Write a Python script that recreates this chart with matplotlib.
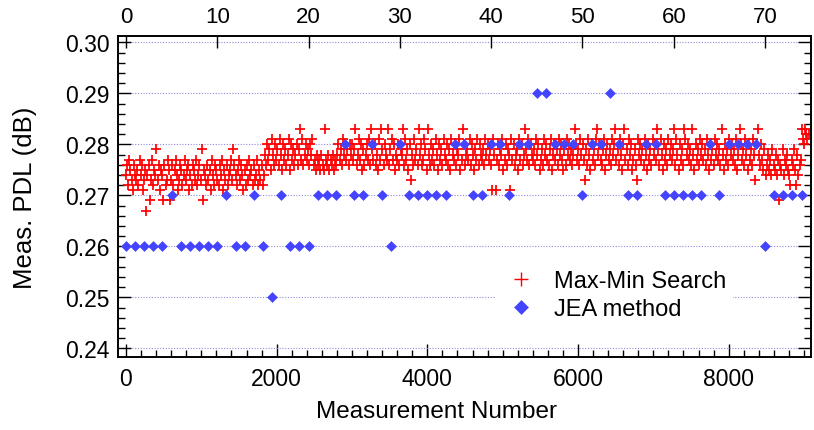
import numpy as np
import matplotlib
matplotlib.use("Agg")
import matplotlib.pyplot as plt
from matplotlib.ticker import MultipleLocator, FormatStrFormatter
from matplotlib.lines import Line2D

plt.rcParams['font.family'] = ['Liberation Sans', 'DejaVu Sans']

# Max-Min Search: measured PDL in units of 0.001 dB, one reading every 15 measurements
maxmin_step = 15
maxmin_mdb = [
    # 0 - 585
    274, 276, 272, 277, 275, 273, 271, 276, 274, 273, 275, 272, 277, 274, 276, 271, 273, 275, 267, 274,
    276, 269, 273, 277, 272, 275, 274, 279, 273, 276, 271, 275, 274, 269, 276, 272, 273, 277, 275, 269,
    # 600 - 1185
    273, 276, 272, 275, 277, 274, 271, 273, 276, 275, 272, 274, 277, 273, 275, 276, 271, 274, 272, 276,
    275, 273, 277, 272, 274, 276, 273, 279, 269, 275, 274, 272, 276, 273, 275, 271, 277, 274, 272, 276,
    # 1200 - 1785
    275, 273, 272, 276, 274, 277, 271, 275, 273, 276, 272, 274, 275, 277, 273, 279, 276, 274, 272, 275,
    277, 273, 276, 274, 271, 275, 272, 276, 273, 277, 274, 275, 272, 276, 273, 274, 277, 272, 275, 273,
    # 1800 - 2385
    276, 272, 274, 278, 276, 280, 277, 279, 275, 281, 278, 276, 280, 277, 279, 276, 281, 278, 275, 280,
    277, 279, 276, 278, 281, 275, 280, 277, 279, 276, 278, 280, 276, 279, 283, 277, 281, 276, 278, 280,
    # 2400 - 2985
    277, 279, 276, 280, 278, 281, 276, 277, 275, 278, 276, 277, 275, 278, 276, 275, 283, 277, 276, 278,
    275, 277, 276, 278, 275, 277, 276, 278, 280, 277, 279, 276, 281, 278, 280, 277, 279, 276, 280, 278,
    # 3000 - 3585
    280, 277, 279, 283, 276, 278, 281, 277, 280, 275, 279, 276, 278, 280, 277, 281, 276, 283, 279, 277,
    280, 276, 278, 275, 281, 277, 283, 279, 276, 280, 278, 277, 283, 276, 279, 281, 277, 280, 275, 278,
    # 3600 - 4185
    277, 280, 276, 279, 278, 283, 276, 281, 277, 279, 275, 280, 273, 278, 276, 281, 277, 279, 276, 283,
    278, 280, 276, 277, 281, 279, 275, 283, 278, 276, 280, 277, 279, 276, 281, 278, 275, 280, 277, 279,
    # 4200 - 4785
    276, 281, 278, 277, 280, 276, 279, 275, 281, 278, 277, 280, 276, 279, 278, 281, 275, 277, 283, 280,
    276, 278, 279, 277, 281, 276, 280, 278, 275, 279, 277, 281, 276, 280, 278, 277, 279, 276, 281, 278,
    # 4800 - 5385
    280, 277, 279, 276, 271, 281, 278, 271, 277, 280, 276, 279, 278, 281, 275, 277, 280, 276, 279, 278,
    271, 281, 277, 280, 276, 278, 279, 275, 281, 277, 280, 276, 278, 283, 279, 277, 281, 276, 280, 278,
    # 5400 - 5985
    277, 279, 276, 281, 278, 280, 275, 277, 279, 276, 281, 278, 280, 277, 276, 279, 281, 275, 278, 280,
    277, 279, 276, 281, 278, 280, 277, 275, 279, 276, 281, 278, 280, 277, 279, 276, 278, 283, 280, 277,
    # 6000 - 6585
    279, 276, 281, 278, 280, 277, 273, 279, 276, 281, 278, 275, 280, 277, 279, 276, 281, 283, 278, 280,
    277, 276, 279, 281, 275, 278, 280, 277, 279, 276, 281, 278, 280, 283, 277, 279, 276, 281, 278, 275,
    # 6600 - 7185
    280, 283, 277, 279, 276, 281, 278, 280, 275, 277, 279, 276, 273, 281, 278, 280, 277, 279, 276, 281,
    278, 275, 280, 277, 279, 276, 281, 278, 280, 277, 283, 279, 276, 281, 278, 275, 280, 277, 279, 276,
    # 7200 - 7785
    281, 278, 280, 277, 279, 283, 276, 281, 278, 275, 280, 277, 279, 276, 283, 281, 278, 280, 277, 279,
    276, 283, 278, 275, 280, 277, 279, 276, 281, 278, 280, 277, 279, 276, 281, 278, 275, 280, 277, 279,
    # 7800 - 8385
    276, 281, 278, 280, 277, 279, 276, 283, 278, 275, 280, 277, 279, 276, 281, 278, 280, 277, 279, 276,
    281, 275, 278, 283, 280, 277, 279, 276, 281, 278, 275, 280, 277, 279, 276, 281, 278, 273, 280, 283,
    # 8400 - 8985
    278, 276, 280, 277, 275, 279, 274, 276, 278, 275, 277, 274, 279, 276, 275, 278, 274, 277, 269, 276,
    275, 279, 274, 277, 276, 278, 275, 274, 272, 277, 276, 279, 275, 272, 278, 274, 276, 277, 283, 281,
    # 9000 - 9060
    280, 283, 282, 281, 282,
]

# JEA method: one value per JEA run (top axis), dB
jea_pdl = [
    0.26, 0.26, 0.26, 0.26, 0.26, 0.27, 0.26, 0.26, 0.26, 0.26,
    0.26, 0.27, 0.26, 0.26, 0.27, 0.26, 0.25, 0.27, 0.26, 0.26,
    0.26, 0.27, 0.27, 0.27, 0.28, 0.27, 0.27, 0.28, 0.27, 0.26,
    0.28, 0.27, 0.27, 0.27, 0.27, 0.27, 0.28, 0.28, 0.27, 0.27,
    0.28, 0.28, 0.27, 0.28, 0.28, 0.29, 0.29, 0.28, 0.28, 0.28,
    0.27, 0.28, 0.28, 0.29, 0.28, 0.27, 0.27, 0.28, 0.28, 0.27,
    0.27, 0.27, 0.27, 0.27, 0.28, 0.27, 0.28, 0.28, 0.28, 0.28,
    0.26, 0.27, 0.27, 0.27, 0.27,
]

red = '#FF0000'
blue = '#4444FF'

maxmin_x = np.arange(len(maxmin_mdb)) * maxmin_step
maxmin_y = np.array(maxmin_mdb) / 1000.0
jea_x = np.arange(len(jea_pdl))

fig = plt.figure(figsize=(8.14, 4.31), dpi=100)
ax = fig.add_axes([0.1453, 0.1687, 0.8507, 0.7448])
ax2 = ax.twiny()

ax.plot(maxmin_x, maxmin_y, linestyle='none', marker='+', color=red,
        markersize=7.0, markeredgewidth=1.25)
ax2.plot(jea_x, jea_pdl, linestyle='none', marker='D', color=blue,
         markersize=4.8, markeredgewidth=0.4)

ax.set_xlim(-102, 9089)
ax2.set_xlim(-0.84, 75.0)
ax.set_ylim(0.23824, 0.30118)

ax.xaxis.set_major_locator(MultipleLocator(2000))
ax.xaxis.set_minor_locator(MultipleLocator(200))
ax.yaxis.set_major_locator(MultipleLocator(0.01))
ax.yaxis.set_minor_locator(MultipleLocator(0.002))
ax.yaxis.set_major_formatter(FormatStrFormatter('%.2f'))
ax2.xaxis.set_major_locator(MultipleLocator(10))

ax.tick_params(axis='x', which='both', direction='in', bottom=True, top=False, labelsize=16.5, pad=7)
ax.tick_params(axis='y', which='both', direction='in', left=True, right=True, labelsize=16.5, pad=6)
ax.tick_params(which='major', length=9.5, width=1.0)
ax.tick_params(which='minor', length=5, width=1.0)
ax2.tick_params(axis='x', which='major', direction='in', length=8.5, width=1.0, labelsize=16, pad=7)

for sp in list(ax.spines.values()) + list(ax2.spines.values()):
    sp.set_linewidth(1.2)

ax.set_axisbelow(True)
ax.yaxis.grid(True, which='major', linestyle=(0, (1, 1.5)), color='#8c8ce0', linewidth=0.8)

ax.set_xlabel('Measurement Number', fontsize=17.5)
ax.xaxis.set_label_coords(0.459, -0.133)
ax.set_ylabel('Meas. PDL (dB)', fontsize=18.5)
ax.yaxis.set_label_coords(-0.117, 0.5)

handles = [
    Line2D([], [], linestyle='none', marker='+', color=red, markersize=9.5, markeredgewidth=1.0),
    Line2D([], [], linestyle='none', marker='D', color=blue, markersize=6.8, markeredgewidth=0.4),
]
leg = ax2.legend(handles, ['Max-Min Search', 'JEA method'], loc='center left',
                 bbox_to_anchor=(0.544, 0.194), fontsize=17, frameon=True,
                 handlelength=1.6, handletextpad=0.6, borderpad=0.3,
                 labelspacing=0.25, borderaxespad=0)
leg.get_frame().set_facecolor('white')
leg.get_frame().set_edgecolor('none')
leg.get_frame().set_alpha(1.0)

fig.savefig('out.png', dpi=100)
